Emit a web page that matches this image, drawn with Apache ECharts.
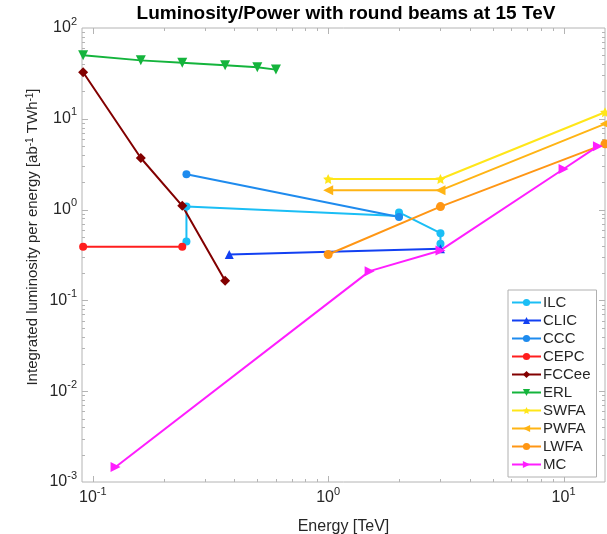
<!DOCTYPE html>
<html>
<head>
<meta charset="utf-8">
<script src="https://cdn.jsdelivr.net/npm/echarts@6/dist/echarts.min.js"></script>
<style>
html,body{margin:0;padding:0;background:#fff;}
#chart{width:607px;height:534px;}
</style>
</head>
<body>
<div id="chart"></div>
<script>
// ---- data (Energy [TeV], luminosity per energy [ab^-1 TWh^-1]) ----
const SERIES_NAMES = ['ILC','CLIC','CCC','CEPC','FCCee','ERL','SWFA','PWFA','LWFA','MC'];
const ILC_E   = [0.25, 0.25, 2, 2, 3, 3];
const ILC_L   = [0.445, 1.08, 0.85, 0.93, 0.55, 0.42];
const CLIC_E  = [0.38, 3];
const CLIC_L  = [0.32, 0.37];
const CCC_E   = [0.25, 2];
const CCC_L   = [2.45, 0.83];
const CEPC_E  = [0.091, 0.24];
const CEPC_L  = [0.39, 0.39];
const FCCEE_E = [0.091, 0.16, 0.24, 0.365];
const FCCEE_L = [32.6, 3.7, 1.1, 0.165];
const ERL_E   = [0.091, 0.16, 0.24, 0.365, 0.5, 0.6];
const ERL_L   = [50, 44, 41.3, 38.9, 37, 34.8];
const SWFA_E  = [1, 3, 15];
const SWFA_L  = [2.17, 2.17, 11.8];
const PWFA_E  = [1, 3, 15];
const PWFA_L  = [1.63, 1.63, 8.8];
const LWFA_E  = [1, 3, 15];
const LWFA_L  = [0.32, 1.08, 5.3];
const MC_E    = [0.125, 1.5, 3, 10, 14];
const MC_L    = [0.00146, 0.21, 0.355, 2.8, 5.0];

const X_MIN = 0.09, X_MAX = 15;
const Y_MIN = 0.001, Y_MAX = 100;
const TITLE = 'Luminosity/Power with round beams at 15 TeV';
const X_NAME = 'Energy [TeV]';

// ---- helpers ----
function pairs(xs, ys){ return xs.map((x,i)=>[x, ys[i]]); }
function isPow10(v){ const e = Math.log10(v); return Math.abs(e - Math.round(e)) < 1e-6; }
function powLabel(v){
  if (!isPow10(v)) return '';
  return '{b|10}{s|' + Math.round(Math.log10(v)) + '}';
}
// tick positions (decades and 2..9 multiples) within an axis range
function tickValues(min, max){
  const out = [];
  for (let d = Math.floor(Math.log10(min)) - 1; d <= Math.ceil(Math.log10(max)); d++){
    for (let m = 1; m <= 9; m++){
      const v = m * Math.pow(10, d);
      if (v > min * 1.0001 && v < max * 0.9999) out.push([v, m === 1 ? 1 : 0]);
    }
  }
  return out;
}

const AX = '#b4b4b4';
const TXT = '#262626';
const FONT = '"Liberation Sans", Arial, Helvetica, sans-serif';

const star = 'path://M0,-10 L2.9,-4 L9.5,-3.1 L4.7,1.5 L5.9,8.1 L0,5 L-5.9,8.1 L-4.7,1.5 L-9.5,-3.1 L-2.9,-4 Z';

const styles = {
  ILC:   {color:'#1BBEF5', symbol:'circle',   size:8,  rot:0},
  CLIC:  {color:'#1240F2', symbol:'triangle', size:9,  rot:0},
  CCC:   {color:'#1E8BEE', symbol:'circle',   size:8,  rot:0},
  CEPC:  {color:'#FF1E1E', symbol:'circle',   size:8,  rot:0},
  FCCee: {color:'#820000', symbol:'diamond',  size:10, rot:0},
  ERL:   {color:'#14B43C', symbol:'triangle', size:10, rot:180},
  SWFA:  {color:'#FFE619', symbol:star,       size:10, rot:0},
  PWFA:  {color:'#FFB414', symbol:'triangle', size:10, rot:90},
  LWFA:  {color:'#FF9614', symbol:'circle',   size:9,  rot:0},
  MC:    {color:'#FF1EFF', symbol:'triangle', size:10, rot:-90}
};
const dataMap = {
  ILC: pairs(ILC_E, ILC_L), CLIC: pairs(CLIC_E, CLIC_L), CCC: pairs(CCC_E, CCC_L),
  CEPC: pairs(CEPC_E, CEPC_L), FCCee: pairs(FCCEE_E, FCCEE_L), ERL: pairs(ERL_E, ERL_L),
  SWFA: pairs(SWFA_E, SWFA_L), PWFA: pairs(PWFA_E, PWFA_L), LWFA: pairs(LWFA_E, LWFA_L),
  MC: pairs(MC_E, MC_L)
};

const lineSeries = SERIES_NAMES.map(n => ({
  name: n, type: 'line', data: dataMap[n],
  symbol: styles[n].symbol, symbolSize: styles[n].size, symbolRotate: styles[n].rot,
  showAllSymbol: true,
  lineStyle: {color: styles[n].color, width: 2},
  itemStyle: {color: styles[n].color, borderWidth: 0},
  emphasis: {disabled: true},
  animation: false, z: 3
}));

// tick marks drawn through the axis scales
const tickData = [];
tickValues(X_MIN, X_MAX).forEach(([v, maj]) => tickData.push([v, 1, 0, maj]));
tickValues(Y_MIN, Y_MAX).forEach(([v, maj]) => tickData.push([1, v, 1, maj]));

const tickSeries = {
  type: 'custom', name: '_ticks', silent: true, animation: false, z: 1,
  encode: {x: 0, y: 1},
  data: tickData,
  renderItem: function(params, api){
    const cs = params.coordSys;
    const kind = api.value(2), major = api.value(3);
    const len = major ? 6 : 3;
    const style = {stroke: AX, lineWidth: 1};
    if (kind === 0){
      const px = Math.round(api.coord([api.value(0), 1])[0]) + 0.5;
      return {type:'group', children:[
        {type:'line', shape:{x1:px, y1:cs.y+cs.height, x2:px, y2:cs.y+cs.height-len}, style},
        {type:'line', shape:{x1:px, y1:cs.y, x2:px, y2:cs.y+len}, style}
      ]};
    } else {
      const py = Math.round(api.coord([1, api.value(1)])[1]) + 0.5;
      return {type:'group', children:[
        {type:'line', shape:{x1:cs.x, y1:py, x2:cs.x+len, y2:py}, style},
        {type:'line', shape:{x1:cs.x+cs.width, y1:py, x2:cs.x+cs.width-len, y2:py}, style}
      ]};
    }
  }
};

const labelRich = {
  b: {fontSize: 16, fontFamily: FONT, color: TXT, lineHeight: 24, verticalAlign: 'middle'},
  s: {fontSize: 11, fontFamily: FONT, color: TXT, lineHeight: 11, verticalAlign: 'top'}
};

const chart = echarts.init(document.getElementById('chart'), null, {renderer: 'canvas'});
chart.setOption({
  animation: false,
  backgroundColor: '#ffffff',
  grid: {left: 82, right: 2, top: 28, bottom: 52, containLabel: false, outerBoundsMode: 'none',
         show: true, borderColor: AX, borderWidth: 1, backgroundColor: 'transparent'},
  xAxis: {
    type: 'log', logBase: 10, min: X_MIN, max: X_MAX,
    axisLine: {show: false}, axisTick: {show: false}, splitLine: {show: false},
    axisLabel: {formatter: powLabel, rich: labelRich, margin: 4, showMinLabel: true, showMaxLabel: true, hideOverlap: false},
    name: X_NAME, nameLocation: 'middle', nameGap: 37,
    nameTextStyle: {fontSize: 16, fontFamily: FONT, color: TXT}
  },
  yAxis: {
    type: 'log', logBase: 10, min: Y_MIN, max: Y_MAX,
    axisLine: {show: false}, axisTick: {show: false}, splitLine: {show: false},
    axisLabel: {formatter: powLabel, rich: labelRich, margin: 5, showMinLabel: true, showMaxLabel: true, hideOverlap: false}
  },
  legend: {
    orient: 'vertical', left: 508, top: 290,
    data: SERIES_NAMES,
    itemWidth: 29, itemHeight: 9, itemGap: 3,
    padding: [5, 6, 5, 3],
    backgroundColor: '#ffffff', borderColor: '#b0b0b0', borderWidth: 1, borderRadius: 0,
    textStyle: {fontSize: 15, fontFamily: FONT, color: TXT, lineHeight: 14, padding: [0,0,0,-3]},
    selectedMode: false
  },
  graphic: [
    {type: 'text', x: 346, y: 14, z: 10,
     style: {text: TITLE, font: 'bold 19px ' + FONT, fill: '#000', align: 'center', verticalAlign: 'middle'}},
    {type: 'text', x: 33, y: 237, rotation: Math.PI / 2, z: 10,
     style: {text: 'Integrated luminosity per energy [ab{s|-1} TWh{s|-1}]',
             font: '15px ' + FONT, fill: TXT, align: 'center', verticalAlign: 'middle',
             rich: {s: {fontSize: 10, fontFamily: FONT, fill: TXT, verticalAlign: 'top', lineHeight: 10}}}}
  ],
  series: [tickSeries].concat(lineSeries)
});
</script>
</body>
</html>
